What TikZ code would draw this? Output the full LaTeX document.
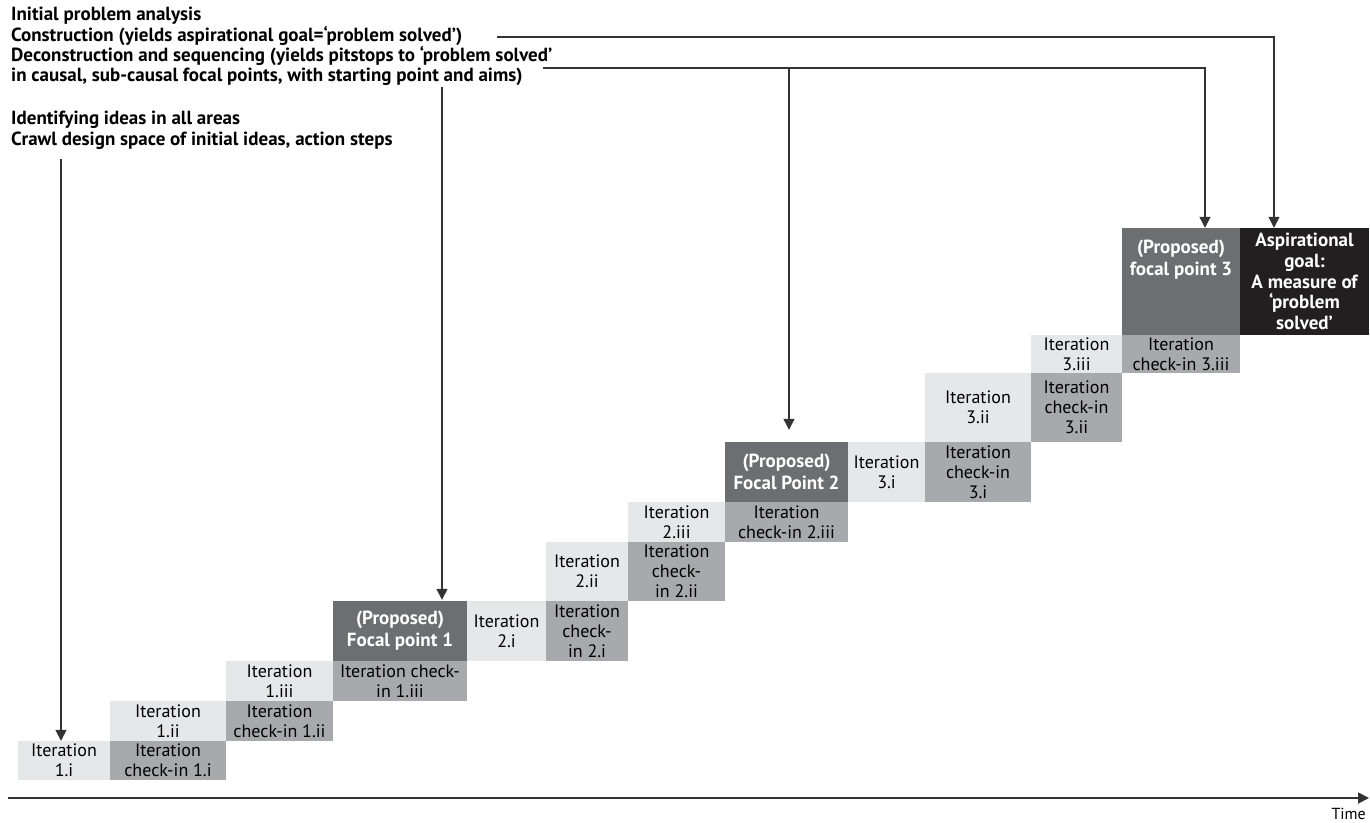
\documentclass[tikz,border=0pt]{standalone}
\usepackage{fontspec}
\setmainfont{PT Sans}
\usetikzlibrary{arrows.meta}
\definecolor{lt}{HTML}{E6E7E8}
\definecolor{md}{HTML}{A7A9AC}
\definecolor{dk}{HTML}{6D6E71}
\definecolor{bk}{HTML}{231F20}
\definecolor{ln}{HTML}{333333}
\tikzset{
  box/.style={inner sep=0pt, align=center, font=\fontsize{18}{20}\selectfont, text=black},
  itbox/.style={box, fill=lt},
  ckbox/.style={box, fill=md},
  fbox/.style={box, fill=dk, text=white, font=\fontsize{19}{22}\selectfont\bfseries},
  gbox/.style={box, fill=bk, text=white, font=\fontsize{19}{20.75}\selectfont\bfseries},
  head/.style={anchor=base west, inner sep=0pt, font=\fontsize{19}{20}\selectfont\bfseries},
  arr/.style={draw=ln, line width=1.4pt, -{Triangle[width=11pt,length=11pt]}},
}
\newcommand{\bx}[7]{\node[#1, minimum width=#4pt, minimum height=#5pt] (#2) at (#3) {#6#7};}
\begin{document}
\begin{tikzpicture}[x=1pt,y=-1pt]
\useasboundingbox (0,0) rectangle (1370,822);
% header texts
\node[head] (h1) at (11,20) {Initial problem analysis};
\node[head] (h2) at (11,41) {Construction (yields aspirational goal=‘problem solved’)};
\node[head] (h3) at (11,61) {Deconstruction and sequencing (yields pitstops to ‘problem solved’};
\node[head] (h4) at (11,81) {in causal, sub-causal focal points, with starting point and aims)};
\node[head] (h5) at (11,124) {Identifying ideas in all areas};
\node[head] (h6) at (11,145) {Crawl design space of initial ideas, action steps};
% boxes
\bx{itbox}{i1a}{64,760.5}{92}{39}{Iteration\\1.i}{}
\bx{ckbox}{c1a}{168,760.5}{116}{39}{Iteration\\check-in 1.i}{}
\bx{itbox}{i1b}{168,721}{116}{40}{Iteration\\1.ii}{}
\bx{ckbox}{c1b}{279.5,721}{107}{40}{Iteration\\check-in 1.ii}{}
\bx{itbox}{i1c}{279.5,681}{107}{40}{Iteration\\1.iii}{}
\bx{ckbox}{c1c}{400,681}{134}{40}{Iteration check-\\in 1.iii}{}
\bx{fbox}{f1}{400,631}{134}{60}{(Proposed)\\Focal point 1}{}
\bx{itbox}{i2a}{506.5,631}{79}{60}{Iteration\\2.i}{}
\bx{ckbox}{c2a}{587,631}{82}{60}{Iteration\\check-\\in 2.i}{}
\bx{itbox}{i2b}{587,571.5}{82}{59}{Iteration\\2.ii}{}
\bx{ckbox}{c2b}{676.5,571.5}{97}{59}{Iteration\\check-\\in 2.ii}{}
\bx{itbox}{i2c}{676.5,522}{97}{40}{Iteration\\2.iii}{}
\bx{ckbox}{c2c}{786.5,522}{123}{40}{Iteration\\check-in 2.iii}{}
\bx{fbox}{f2}{786.5,472}{123}{60}{(Proposed)\\Focal Point 2}{}
\bx{itbox}{i3a}{886.5,472}{77}{60}{Iteration\\3.i}{}
\bx{ckbox}{c3a}{978,472}{106}{60}{Iteration\\check-in\\3.i}{}
\bx{itbox}{i3b}{978,407.5}{106}{69}{Iteration\\3.ii}{}
\bx{ckbox}{c3b}{1076.5,407.5}{91}{69}{Iteration\\check-in\\3.ii}{}
\bx{itbox}{i3c}{1076.5,354}{91}{38}{Iteration\\3.iii}{}
\bx{ckbox}{c3c}{1181,354}{118}{38}{Iteration\\check-in 3.iii}{}
\bx{fbox}{f3}{1181,281.5}{118}{107}{}{}
\node[box, text=white, font=\fontsize{19}{22}\selectfont\bfseries, anchor=north] (f3t) at ([yshift=-12pt]f3.north) {(Proposed)\\focal point 3};
\bx{gbox}{goal}{1304.5,281.5}{129}{107}{Aspirational\\goal:\\A measure of\\‘problem\\solved’}{}
% connectors
\coordinate (s0) at (61,159);
\draw[arr] (s0) -- (s0 |- i1a.north);
\coordinate (s1) at (442,87);
\draw[arr, shorten >=1pt] (s1) -- (s1 |- f1.north);
\coordinate (s2) at (497,37);
\coordinate (k2) at (1274,37);
\draw[arr] (s2) -- (k2) -- (k2 |- goal.north);
\coordinate (s3) at (543,68);
\coordinate (k3) at (1205,68);
\coordinate (b3) at (789,68);
\draw[arr] (s3) -- (k3) -- (k3 |- f3.north);
\draw[arr, shorten >=12pt] (b3) -- (b3 |- f2.north);
% time axis
\coordinate (t0) at (8,798);
\coordinate (t1) at (1369,798);
\draw[draw=ln, line width=1.8pt, -{Triangle[width=11pt,length=11pt]}] (t0) -- (t1);
\node[anchor=base east, inner sep=0pt, font=\fontsize{16}{18}\selectfont] (time) at (1366,819) {Time};
\end{tikzpicture}
\end{document}
